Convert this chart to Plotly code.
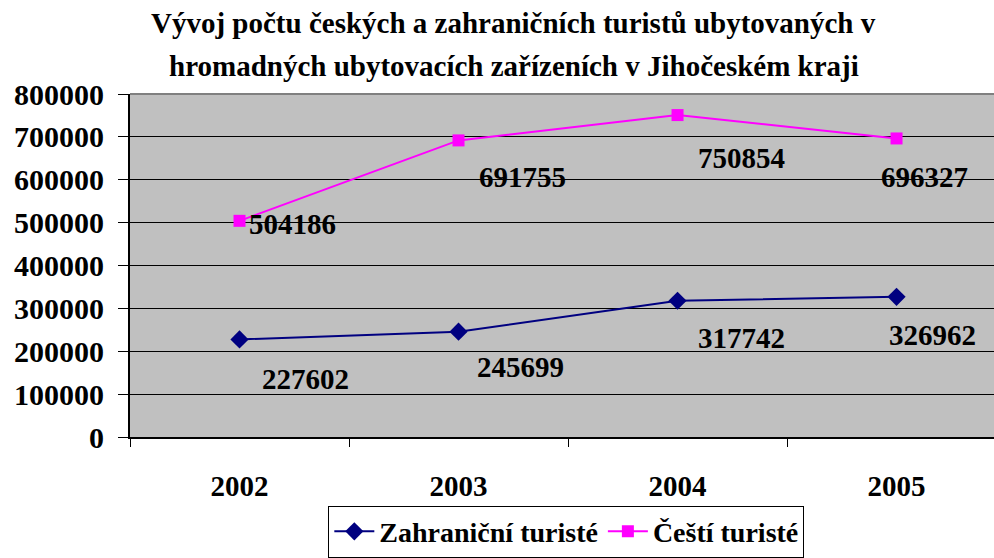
import plotly.graph_objects as go

years = ["2002", "2003", "2004", "2005"]
zahranicni = [227602, 245699, 317742, 326962]
cesti = [504186, 691755, 750854, 696327]
y_ticks = [0, 100000, 200000, 300000, 400000, 500000, 600000, 700000, 800000]

title_lines = [
    "Vývoj počtu českých a zahraničních turistů ubytovaných v",
    "hromadných ubytovacích zařízeních v Jihočeském kraji",
]

# label offsets (px) as placed in the original chart
zahr_offsets = [(20, -40), (16, -35), (18, -37), (-10, -38)]
cesti_offsets = [(7, -3), (18, -37), (18, -43), (-18, -39)]

FONT = "Liberation Serif"
BOLD = dict(family=FONT, color="black", weight="bold")

fig = go.Figure()

fig.add_trace(go.Scatter(
    x=years, y=zahranicni,
    mode="lines+markers",
    name="Zahraniční turisté",
    line=dict(color="#000080", width=2),
    marker=dict(symbol="diamond", size=14, color="#000080"),
))

fig.add_trace(go.Scatter(
    x=years, y=cesti,
    mode="lines+markers",
    name="Čeští turisté",
    line=dict(color="#FF00FF", width=2),
    marker=dict(symbol="square", size=12, color="#FF00FF"),
))

# -----------------------
# DATA LABELS
# -----------------------
for vals, offs in [(zahranicni, zahr_offsets), (cesti, cesti_offsets)]:
    for i, (v, (dx, dy)) in enumerate(zip(vals, offs)):
        fig.add_annotation(
            x=i, y=v, text=str(v), showarrow=False,
            xanchor="left", yanchor="middle",
            xshift=dx, yshift=dy,
            font=dict(size=29, **BOLD),
        )

# -----------------------
# TITLE
# -----------------------
for line, ypos in zip(title_lines, [1.207, 1.083]):
    fig.add_annotation(
        x=0.444, y=ypos, xref="paper", yref="paper",
        text=line, showarrow=False,
        xanchor="center", yanchor="middle",
        font=dict(size=29, **BOLD),
    )

# grey plot border (top)
fig.add_shape(type="line", xref="paper", yref="paper",
              x0=0, x1=1, y0=1, y1=1, line=dict(color="#808080", width=2))

fig.update_layout(
    width=994, height=558,
    margin=dict(l=130, r=0, t=94, b=116),
    plot_bgcolor="#C0C0C0",
    paper_bgcolor="white",
    font=dict(size=26, **BOLD),
    showlegend=True,
    legend=dict(
        orientation="h",
        x=0.505, y=-0.2, xanchor="center", yanchor="top",
        bordercolor="black", borderwidth=1,
        bgcolor="white",
        font=dict(size=28, **BOLD),
        itemwidth=40,
    ),
    xaxis=dict(
        type="category",
        range=[-0.5, 3.445],
        automargin=False,
        showgrid=False,
        showline=True, linecolor="black", linewidth=2,
        ticks="outside", tickson="boundaries", ticklen=8, tickcolor="black",
        tickfont=dict(size=29, **BOLD),
        ticklabelstandoff=22,
        zeroline=False,
    ),
    yaxis=dict(
        range=[0, 800000],
        automargin=False,
        tickvals=y_ticks,
        ticktext=[str(t) for t in y_ticks],
        showgrid=True, gridcolor="black", gridwidth=1,
        showline=True, linecolor="black", linewidth=2,
        ticks="outside", ticklen=10, tickcolor="black",
        tickfont=dict(size=30, **BOLD),
        ticklabelstandoff=8,
        zeroline=False,
    ),
)

fig.write_html("out.html", config={"displayModeBar": False},
               post_script="document.body.style.margin='0';")
